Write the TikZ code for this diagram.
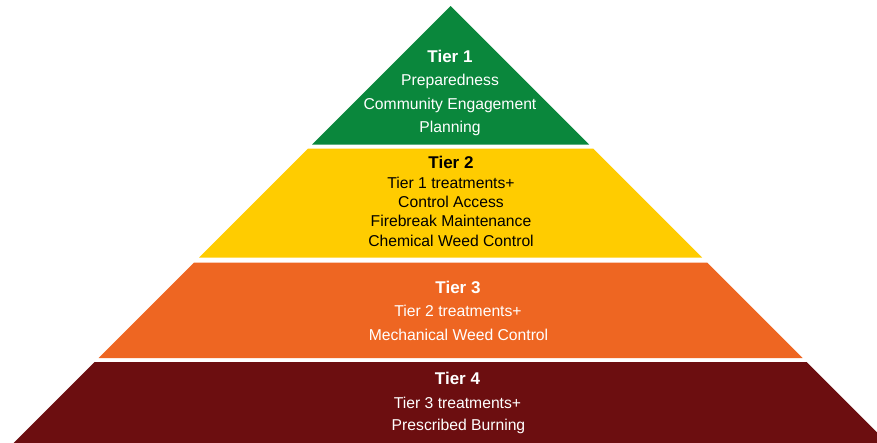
\documentclass[tikz,border=0pt]{standalone}
\usepackage{fontspec}
\setmainfont{Liberation Sans}
\definecolor{tgreen}{RGB}{10,135,60}
\definecolor{tyellow}{RGB}{255,204,0}
\definecolor{torange}{RGB}{238,102,34}
\definecolor{tmaroon}{RGB}{108,14,16}
\tikzset{
  head/.style={anchor=base, inner sep=0pt, font=\fontsize{17}{20}\selectfont\bfseries},
  item/.style={anchor=base, inner sep=0pt, font=\fontsize{15.7}{19}\selectfont},
}
\newcommand{\band}[3]{% color, ytop, ybottom
  \fill[#1] ({450.5-(#2-6)},#2) -- ({450.5+(#2-6)},#2) -- ({450.5+(#3-6)},#3) -- ({450.5-(#3-6)},#3) -- cycle;}
\begin{document}
\begin{tikzpicture}[x=1pt,y=-1pt]
\useasboundingbox (0,0) rectangle (877,442);
\clip (0,0) rectangle (877,442);
\fill[white] (0,0) rectangle (877,442);
% bands
\fill[tgreen] (450.5,6) -- ({450.5+138.5},144.5) -- ({450.5-138.5},144.5) -- cycle;
\band{tyellow}{148.5}{257.5}
\band{torange}{262.5}{358}
\band{tmaroon}{362}{460}
% tier 1
\node[head,text=white] (t1h) at (450,62.3) {Tier 1};
\node[item,text=white] (t1a) at (450,85.7) {Preparedness};
\node[item,text=white] (t1b) at (450,109.3) {Community Engagement};
\node[item,text=white] (t1c) at (450,132) {Planning};
% tier 2
\node[head,text=black] (t2h) at (451,168.3) {Tier 2};
\node[item,text=black] (t2a) at (451,188.3) {Tier 1 treatments+};
\node[item,text=black] (t2b) at (451,207.5) {Control Access};
\node[item,text=black] (t2c) at (451,226.8) {Firebreak Maintenance};
\node[item,text=black] (t2d) at (451,246.5) {Chemical Weed Control};
% tier 3
\node[head,text=white] (t3h) at (458,293.3) {Tier 3};
\node[item,text=white] (t3a) at (458,316.7) {Tier 2 treatments+};
\node[item,text=white] (t3b) at (458.5,340) {Mechanical Weed Control};
% tier 4
\node[head,text=white] (t4h) at (457.5,384) {Tier 4};
\node[item,text=white] (t4a) at (457.5,408.3) {Tier 3 treatments+};
\node[item,text=white] (t4b) at (458.5,430.7) {Prescribed Burning};
\end{tikzpicture}
\end{document}
